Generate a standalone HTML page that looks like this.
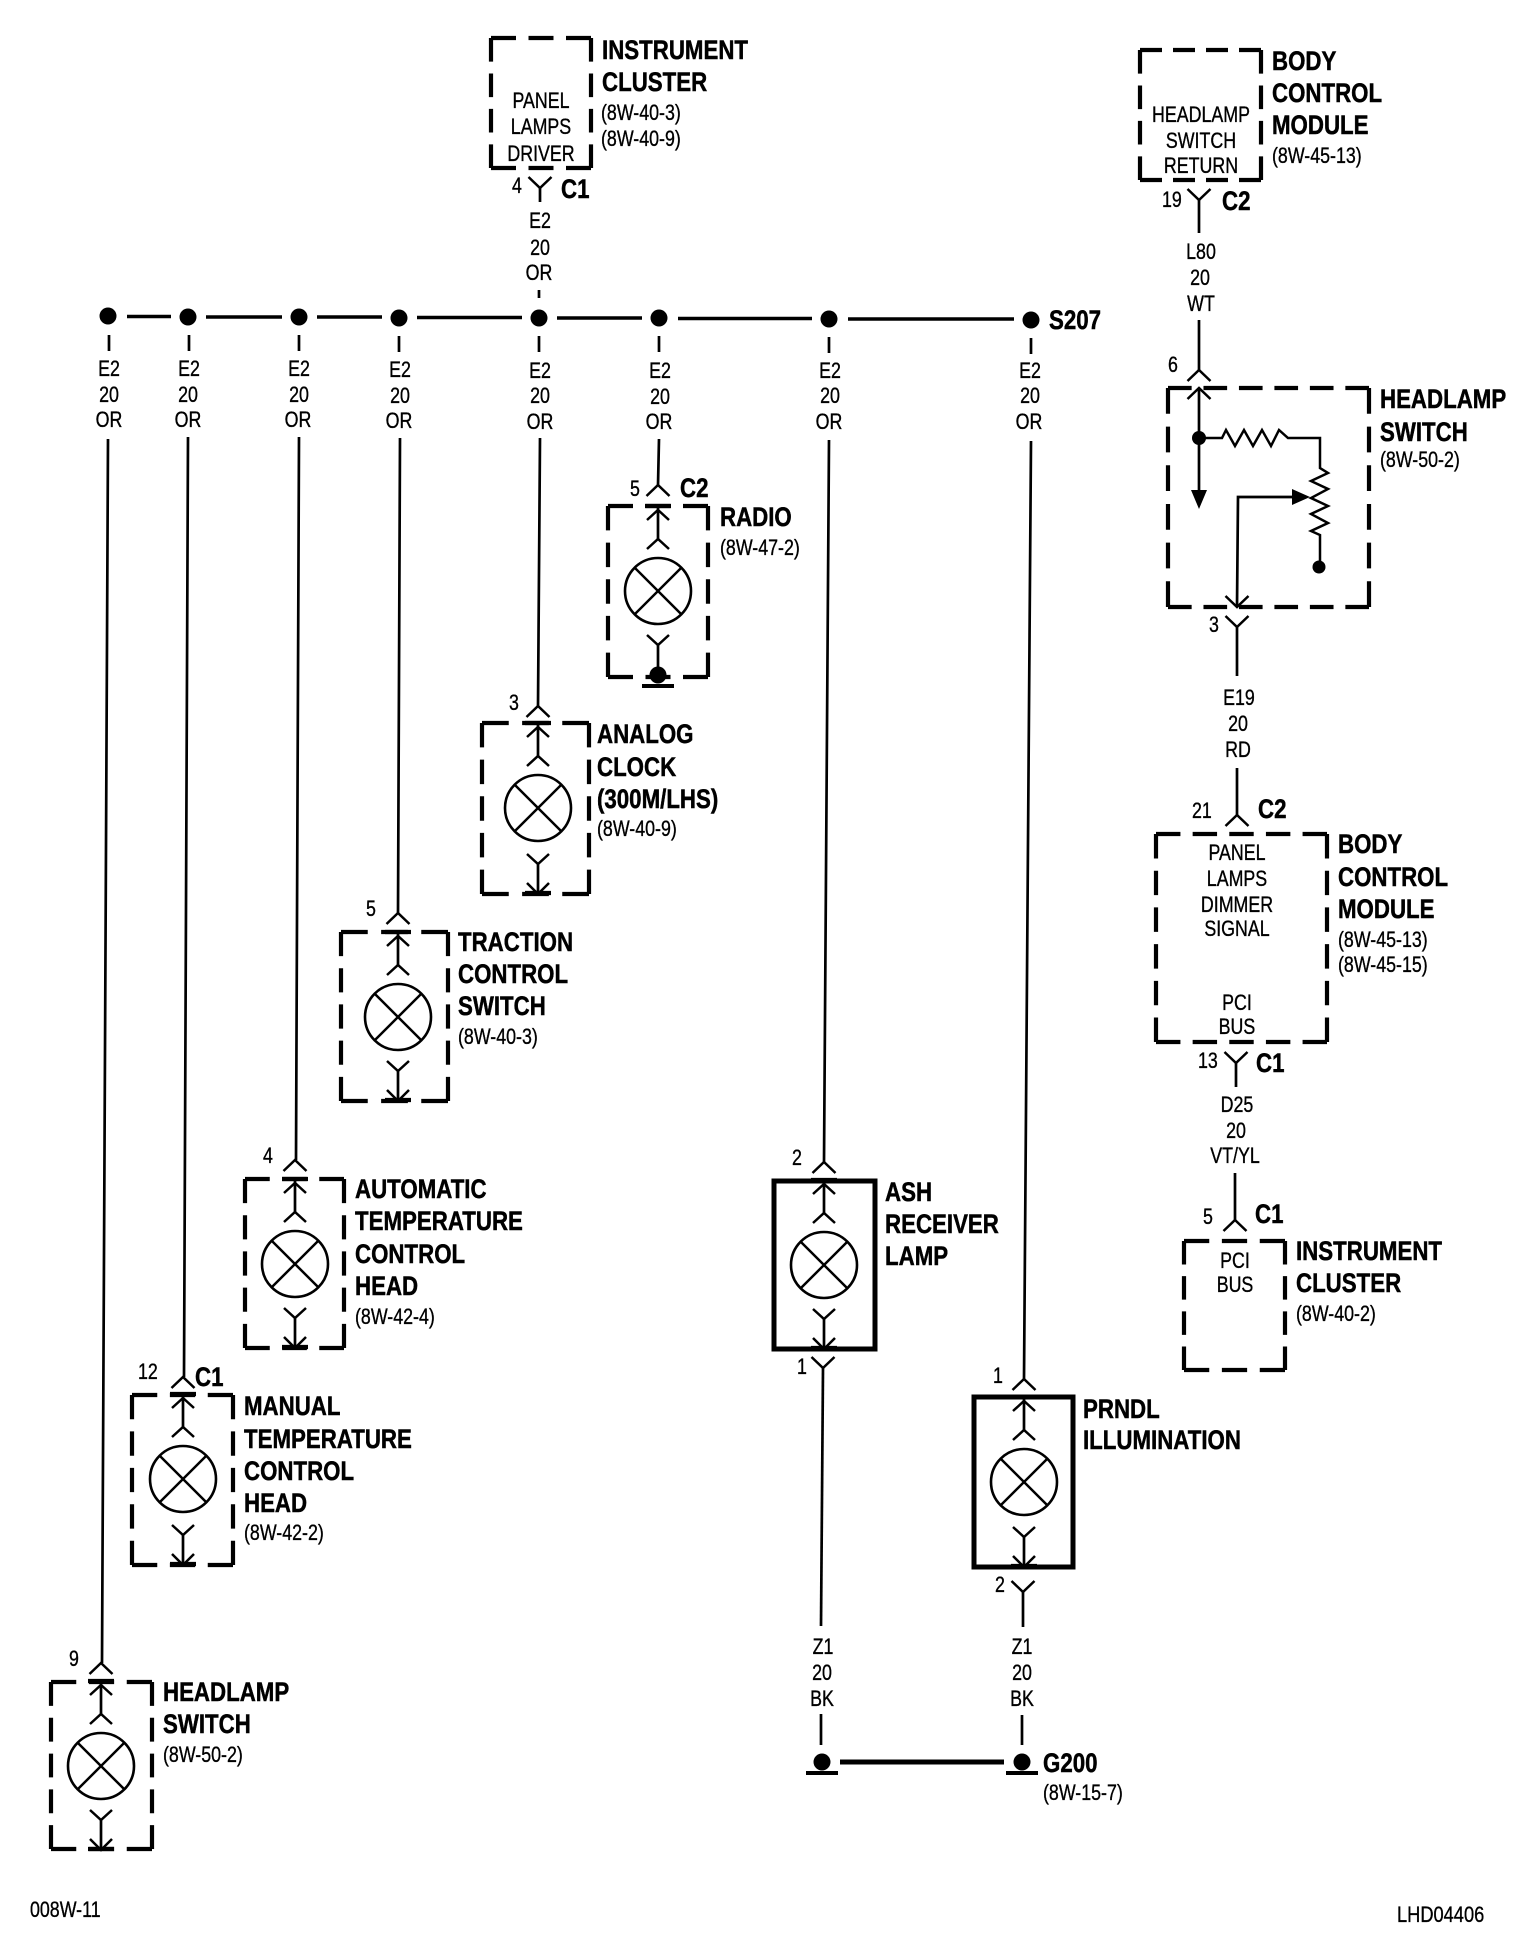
<!DOCTYPE html>
<html><head><meta charset="utf-8"><title>Wiring diagram</title>
<style>
html,body{margin:0;padding:0;background:#fff}
svg{display:block}
text{fill:#000;transform-box:fill-box;transform-origin:0 50%}
.b{font:bold 27px "Liberation Sans",sans-serif;transform:scaleX(.825);stroke:#000;stroke-width:.5}
.s{font:22px "Liberation Sans",sans-serif;transform:scaleX(.81);stroke:#000;stroke-width:.35}
.m{text-anchor:middle;transform-origin:50% 50%}
.w{fill:none;stroke:#000;stroke-width:2.7}
.c{fill:none;stroke:#000;stroke-width:2.5}
.d{fill:none;stroke:#000;stroke-width:4.2;stroke-dasharray:2 1;stroke-linecap:butt}
.bus{fill:none;stroke:#000;stroke-width:3.6}
</style></head><body>
<svg xmlns="http://www.w3.org/2000/svg" width="1520" height="1952" viewBox="0 0 1520 1952">
<rect width="1520" height="1952" fill="#fff"/>
<defs>
<g id="lamp1">
<path d="M-13 0H13" stroke="#000" stroke-width="4.2" fill="none"/>
<path class="w" d="M0 0V33"/>
<path class="c" d="M-11 14L0 4L11 14M-11 43L0 33L11 43"/>
<circle cx="0" cy="85" r="33" fill="none" stroke="#000" stroke-width="2.6"/>
<path class="c" d="M-23.3 61.7L23.3 108.3M23.3 61.7L-23.3 108.3"/>
</g>
<g id="lamp2">
<path class="c" d="M-11 131L0 141L11 131M-11 160L0 171L11 160"/>
<path class="w" d="M0 141V171"/>
<path d="M-13 170H13" stroke="#000" stroke-width="4.2" fill="none"/>
</g>
<path id="up" class="c" d="M-11.500 11L0 0L11.500 11"/>
<path id="dn" class="c" d="M-11.500 -11L0 0L11.500 -11"/>
<g id="gnd"><circle cx="0" cy="0" r="8.500" fill="#000"/><path d="M-16 11H16" stroke="#000" stroke-width="4" fill="none"/></g>
</defs>

<!-- Bus -->
<path class="bus" d="M127 316.500H171M206 317H282M317 317H382M417 317.500H522M557 318H642M678 318.500H812M848 319H1014"/>
<g fill="#000">
<circle cx="108" cy="316" r="8.500"/><circle cx="188" cy="317" r="8.500"/><circle cx="299" cy="317" r="8.500"/><circle cx="399" cy="318" r="8.500"/><circle cx="539" cy="318" r="8.500"/><circle cx="659" cy="318" r="8.500"/><circle cx="829" cy="319" r="8.500"/><circle cx="1031" cy="320" r="8.500"/>
</g>
<!-- Stubs -->
<path class="w" d="M109 335V351M189 335V351M299 335V351M399 336V352M539 336V352M659 336V352M829 337V353M1031 338V354M539 290V298"/>
<!-- Long wires -->
<path class="w" d="M108 439L102 1663M188 437L184 1377M299 437L296 1160M400 438L398 913M540 438L538 706M659 439L658 485M829 440L824 1162M1031 441L1024 1379"/>

<!-- Bus labels -->
<text class="s m" x="109" y="376">E2</text><text class="s m" x="109" y="402">20</text><text class="s m" x="109" y="427">OR</text>
<text class="s m" x="189" y="376">E2</text><text class="s m" x="188" y="402">20</text><text class="s m" x="188" y="427">OR</text>
<text class="s m" x="299" y="376">E2</text><text class="s m" x="299" y="402">20</text><text class="s m" x="298" y="427">OR</text>
<text class="s m" x="400" y="377">E2</text><text class="s m" x="400" y="403">20</text><text class="s m" x="399" y="428">OR</text>
<text class="s m" x="540" y="378">E2</text><text class="s m" x="540" y="403">20</text><text class="s m" x="540" y="429">OR</text>
<text class="s m" x="660" y="378">E2</text><text class="s m" x="660" y="404">20</text><text class="s m" x="659" y="429">OR</text>
<text class="s m" x="830" y="378">E2</text><text class="s m" x="830" y="403">20</text><text class="s m" x="829" y="429">OR</text>
<text class="s m" x="1030" y="378">E2</text><text class="s m" x="1030" y="403">20</text><text class="s m" x="1029" y="429">OR</text>
<text class="b" x="1049" y="329">S207</text>

<!-- Instrument cluster top -->
<path class="d" pathLength="8" d="M491 38H591"/><path class="d" pathLength="8" d="M491 168H591"/>
<path class="d" pathLength="11" d="M491 38V168"/><path class="d" pathLength="11" d="M591 38V168"/>
<use href="#dn" x="540" y="188"/><path class="w" d="M540 188V202"/>
<text class="s m" x="541" y="108">PANEL</text><text class="s m" x="541" y="134">LAMPS</text><text class="s m" x="541" y="161">DRIVER</text>
<text class="b" x="602" y="59">INSTRUMENT</text><text class="b" x="602" y="91">CLUSTER</text>
<text class="s" x="601" y="120">(8W-40-3)</text><text class="s" x="601" y="146">(8W-40-9)</text>
<text class="s" x="512" y="193">4</text><text class="b" x="561" y="198">C1</text>
<text class="s m" x="540" y="228">E2</text><text class="s m" x="540" y="255">20</text><text class="s m" x="539" y="280">OR</text>

<!-- BCM top -->
<path class="d" pathLength="11" d="M1140 50H1261"/><path class="d" pathLength="11" d="M1140 180H1261"/>
<path class="d" pathLength="11" d="M1140 50V180"/><path class="d" pathLength="11" d="M1261 50V180"/>
<text class="s m" x="1201" y="122">HEADLAMP</text><text class="s m" x="1201" y="148">SWITCH</text><text class="s m" x="1201" y="173">RETURN</text>
<text class="b" x="1272" y="70">BODY</text><text class="b" x="1272" y="102">CONTROL</text><text class="b" x="1272" y="134">MODULE</text>
<text class="s" x="1272" y="163">(8W-45-13)</text>
<use href="#dn" x="1199" y="200"/><path class="w" d="M1199 200V233M1199 320V370"/>
<text class="s" x="1162" y="207">19</text><text class="b" x="1222" y="210">C2</text>
<text class="s m" x="1201" y="259">L80</text><text class="s m" x="1200" y="285">20</text><text class="s m" x="1201" y="311">WT</text>

<!-- Headlamp switch right -->
<path class="d" pathLength="17" d="M1168 388H1369"/><path class="d" pathLength="17" d="M1168 607H1369"/>
<path class="d" pathLength="17" d="M1168 388V607"/><path class="d" pathLength="17" d="M1369 388V607"/>
<use href="#up" x="1199" y="370"/><use href="#up" x="1199" y="388"/>
<path class="w" d="M1199 388V492"/>
<path d="M1191 490H1207L1199 509Z" fill="#000"/>
<circle cx="1199" cy="438" r="7" fill="#000"/>
<path class="c" d="M1199 438H1222L1226 430L1235 446L1244 430L1253 446L1262 430L1271 446L1279 430L1288 438H1320V468L1328 473L1311 481L1328 489L1311 498L1328 506L1311 514L1328 523L1311 531L1320 535V567"/>
<circle cx="1319" cy="567" r="6.500" fill="#000"/>
<path d="M1292 489L1310 497L1292 505Z" fill="#000"/>
<path class="w" d="M1292 497H1238L1237 607"/>
<use href="#dn" x="1237" y="607"/><use href="#dn" x="1237" y="627"/>
<path class="w" d="M1237 627V676"/>
<text class="s" x="1168" y="372">6</text><text class="s" x="1209" y="632">3</text>
<text class="b" x="1380" y="408">HEADLAMP</text><text class="b" x="1380" y="441">SWITCH</text><text class="s" x="1380" y="467">(8W-50-2)</text>
<text class="s m" x="1239" y="705">E19</text><text class="s m" x="1238" y="731">20</text><text class="s m" x="1238" y="757">RD</text>
<path class="w" d="M1237 768V815"/>

<!-- BCM middle -->
<path class="d" pathLength="14" d="M1156 834H1327"/><path class="d" pathLength="14" d="M1156 1042H1327"/>
<path class="d" pathLength="17" d="M1156 834V1042"/><path class="d" pathLength="17" d="M1327 834V1042"/>
<use href="#up" x="1237" y="815"/>
<text class="s" x="1192" y="818">21</text><text class="b" x="1258" y="818">C2</text>
<text class="b" x="1338" y="853">BODY</text><text class="b" x="1338" y="886">CONTROL</text><text class="b" x="1338" y="918">MODULE</text>
<text class="s" x="1338" y="947">(8W-45-13)</text><text class="s" x="1338" y="972">(8W-45-15)</text>
<text class="s m" x="1237" y="860">PANEL</text><text class="s m" x="1237" y="886">LAMPS</text><text class="s m" x="1237" y="912">DIMMER</text><text class="s m" x="1237" y="936">SIGNAL</text>
<text class="s m" x="1237" y="1010">PCI</text><text class="s m" x="1237" y="1034">BUS</text>
<use href="#dn" x="1236" y="1063"/><path class="w" d="M1236 1063V1087"/>
<text class="s" x="1198" y="1068">13</text><text class="b" x="1256" y="1072">C1</text>
<text class="s m" x="1237" y="1112">D25</text><text class="s m" x="1236" y="1138">20</text><text class="s m" x="1235" y="1163">VT/YL</text>
<path class="w" d="M1235 1173V1220"/><use href="#up" x="1235" y="1220"/>

<!-- Instrument cluster lower -->
<path class="d" pathLength="8" d="M1184 1241H1285"/><path class="d" pathLength="8" d="M1184 1370H1285"/>
<path class="d" pathLength="11" d="M1184 1241V1370"/><path class="d" pathLength="11" d="M1285 1241V1370"/>
<text class="s" x="1203" y="1224">5</text><text class="b" x="1255" y="1223">C1</text>
<text class="s m" x="1235" y="1268">PCI</text><text class="s m" x="1235" y="1292">BUS</text>
<text class="b" x="1296" y="1260">INSTRUMENT</text><text class="b" x="1296" y="1292">CLUSTER</text><text class="s" x="1296" y="1321">(8W-40-2)</text>

<!-- Radio -->
<path class="d" pathLength="8" d="M608 506H708"/><path class="d" pathLength="8" d="M608 677H708"/>
<path class="d" pathLength="14" d="M608 506V677"/><path class="d" pathLength="14" d="M708 506V677"/>
<use href="#up" x="658" y="485"/><use href="#lamp1" x="658" y="506"/>
<path class="c" d="M647 635L658 645L669 635"/><path class="w" d="M658 645V675"/>
<use href="#gnd" x="658" y="675"/>
<text class="s" x="630" y="496">5</text><text class="b" x="680" y="497">C2</text>
<text class="b" x="720" y="526">RADIO</text><text class="s" x="720" y="555">(8W-47-2)</text>

<!-- Clock -->
<path class="d" pathLength="8" d="M482 723H589"/><path class="d" pathLength="8" d="M482 894H589"/>
<path class="d" pathLength="14" d="M482 723V894"/><path class="d" pathLength="14" d="M589 723V894"/>
<use href="#up" x="538" y="706"/><use href="#lamp1" x="538" y="723"/><use href="#lamp2" x="538" y="723"/>
<text class="s" x="509" y="710">3</text>
<text class="b" x="597" y="743">ANALOG</text><text class="b" x="597" y="776">CLOCK</text><text class="b" x="597" y="808">(300M/LHS)</text><text class="s" x="597" y="836">(8W-40-9)</text>

<!-- Traction -->
<path class="d" pathLength="8" d="M341 932H448"/><path class="d" pathLength="8" d="M341 1101H448"/>
<path class="d" pathLength="14" d="M341 932V1101"/><path class="d" pathLength="14" d="M448 932V1101"/>
<use href="#up" x="398" y="913"/><use href="#lamp1" x="398" y="932"/><use href="#lamp2" x="398" y="930"/>
<text class="s" x="366" y="916">5</text>
<text class="b" x="458" y="951">TRACTION</text><text class="b" x="458" y="983">CONTROL</text><text class="b" x="458" y="1015">SWITCH</text><text class="s" x="458" y="1044">(8W-40-3)</text>

<!-- ATC -->
<path class="d" pathLength="8" d="M245 1179H344"/><path class="d" pathLength="8" d="M245 1348H344"/>
<path class="d" pathLength="14" d="M245 1179V1348"/><path class="d" pathLength="14" d="M344 1179V1348"/>
<use href="#up" x="295" y="1160"/><use href="#lamp1" x="295" y="1179"/><use href="#lamp2" x="295" y="1177"/>
<text class="s" x="263" y="1163">4</text>
<text class="b" x="355" y="1198">AUTOMATIC</text><text class="b" x="355" y="1230">TEMPERATURE</text><text class="b" x="355" y="1263">CONTROL</text><text class="b" x="355" y="1295">HEAD</text><text class="s" x="355" y="1324">(8W-42-4)</text>

<!-- Manual -->
<path class="d" pathLength="8" d="M132 1395H233"/><path class="d" pathLength="8" d="M132 1565H233"/>
<path class="d" pathLength="14" d="M132 1395V1565"/><path class="d" pathLength="14" d="M233 1395V1565"/>
<use href="#up" x="183" y="1377"/><use href="#lamp1" x="183" y="1394"/><use href="#lamp2" x="183" y="1394"/>
<text class="s" x="138" y="1379">12</text><text class="b" x="195" y="1386">C1</text>
<text class="b" x="244" y="1415">MANUAL</text><text class="b" x="244" y="1448">TEMPERATURE</text><text class="b" x="244" y="1480">CONTROL</text><text class="b" x="244" y="1512">HEAD</text><text class="s" x="244" y="1540">(8W-42-2)</text>

<!-- Headlamp lower left -->
<path class="d" pathLength="8" d="M51 1682H152"/><path class="d" pathLength="8" d="M51 1849H152"/>
<path class="d" pathLength="14" d="M51 1682V1849"/><path class="d" pathLength="14" d="M152 1682V1849"/>
<use href="#up" x="101" y="1663"/><use href="#lamp1" x="101" y="1681"/><use href="#lamp2" x="101" y="1679"/>
<text class="s" x="69" y="1666">9</text>
<text class="b" x="163" y="1701">HEADLAMP</text><text class="b" x="163" y="1733">SWITCH</text><text class="s" x="163" y="1762">(8W-50-2)</text>

<!-- Ash receiver -->
<rect x="774" y="1181" width="101" height="168" fill="none" stroke="#000" stroke-width="5"/>
<use href="#up" x="824" y="1162"/><use href="#lamp1" x="824" y="1180"/><use href="#lamp2" x="824" y="1178"/>
<use href="#dn" x="823" y="1368"/><path class="w" d="M823 1368L821 1626"/>
<text class="s" x="792" y="1165">2</text><text class="s" x="797" y="1374">1</text>
<text class="b" x="885" y="1201">ASH</text><text class="b" x="885" y="1233">RECEIVER</text><text class="b" x="885" y="1265">LAMP</text>

<!-- PRNDL -->
<rect x="974" y="1397" width="99" height="170" fill="none" stroke="#000" stroke-width="5"/>
<use href="#up" x="1024" y="1379"/><use href="#lamp1" x="1024" y="1397"/><use href="#lamp2" x="1024" y="1396"/>
<use href="#dn" x="1023" y="1592"/><path class="w" d="M1023 1592V1627"/>
<text class="s" x="993" y="1383">1</text><text class="s" x="995" y="1592">2</text>
<text class="b" x="1083" y="1418">PRNDL</text><text class="b" x="1083" y="1449">ILLUMINATION</text>

<!-- Ground -->
<text class="s m" x="823" y="1654">Z1</text><text class="s m" x="822" y="1680">20</text><text class="s m" x="822" y="1706">BK</text>
<text class="s m" x="1022" y="1654">Z1</text><text class="s m" x="1022" y="1680">20</text><text class="s m" x="1022" y="1706">BK</text>
<path class="w" d="M821 1714V1745M1022 1715V1745"/>
<path class="bus" d="M840 1762H1004" style="stroke-width:5"/>
<use href="#gnd" x="822" y="1762"/><use href="#gnd" x="1022" y="1762"/>
<text class="b" x="1043" y="1772">G200</text><text class="s" x="1043" y="1800">(8W-15-7)</text>

<!-- Footer -->
<text class="s" x="30" y="1917">008W-11</text>
<text class="s" x="1397" y="1922" style="transform:scaleX(.83)">LHD04406</text>
</svg>
</body></html>
